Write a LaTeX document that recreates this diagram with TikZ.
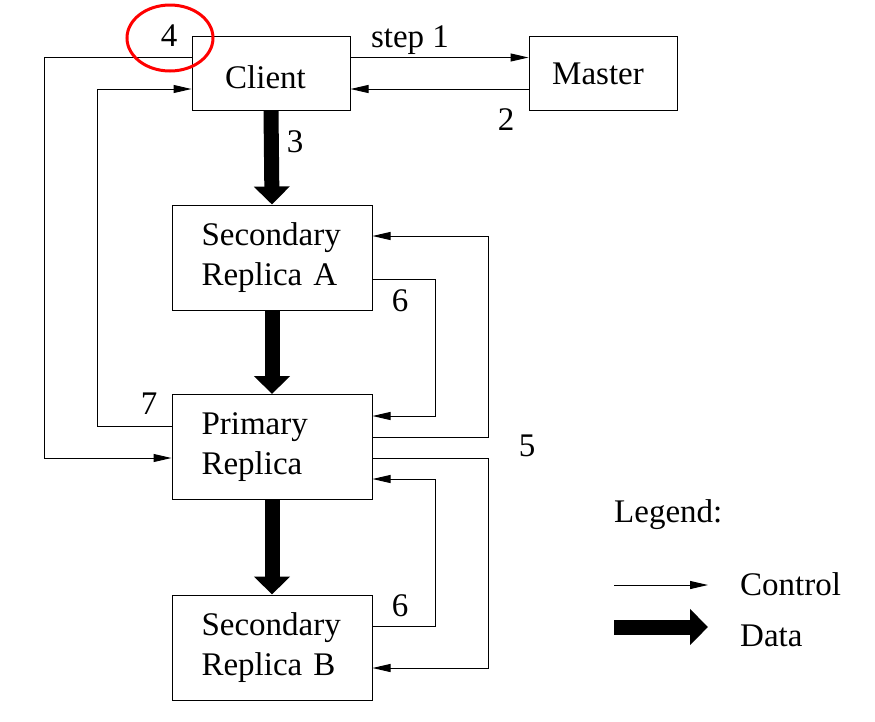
\documentclass[tikz,border=0pt]{standalone}
\usepackage{fontspec}
\setmainfont{Liberation Serif}
\usetikzlibrary{arrows.meta}
\begin{document}
\begin{tikzpicture}[x=1pt,y=-1pt,
  font=\fontsize{33}{40}\selectfont,
  box/.style={draw,line width=1pt,inner sep=0pt},
  replica/.style={box,minimum width=200pt,minimum height=105pt,text width=141pt,align=left},
  ctrl/.style={line width=1pt,-{Triangle[length=18pt,width=8pt]}},
  data/.style={line width=15pt,-{Triangle[length=18pt,width=35pt]}},
  lbl/.style={inner sep=0pt}]
\useasboundingbox (0,0) rectangle (875,721);
\node[box,minimum width=158pt,minimum height=74pt] (client) at (271,73) {\raisebox{-4pt}[\height][\depth]{\hspace*{-11pt}Client}};
\node[box,minimum width=148pt,minimum height=74pt] (master) at (603,73) {\raisebox{-1pt}[\height][\depth]{\hspace*{-10pt}Master}};
\node[replica] (secA) at (272,257.5) {Secondary\\Replica A};
\node[replica] (primary) at (272,447) {Primary\\Replica};
\node[replica] (secB) at (272,647.5) {Secondary\\Replica B};
% data flow
\draw[data] (client.south) -- (secA.north);
\draw[data] (secA.south) -- (primary.north);
\draw[data] (primary.south) -- (secB.north);
% control flow
\draw[ctrl] ([yshift=15.5pt]client.east) -- ([yshift=15.5pt]master.west);
\draw[ctrl] ([yshift=-16pt]master.west) -- ([yshift=-16pt]client.east);
\draw[ctrl] ([yshift=16pt]client.west) -- ++(-147,0) |- ([yshift=-11pt]primary.west);
\draw[ctrl] ([yshift=21pt]primary.west) -- ++(-74.5,0) |- ([yshift=-16pt]client.west);
\draw[ctrl] ([yshift=-21.5pt]secA.east) -- ++(63,0) |- ([yshift=31pt]primary.east);
\draw[ctrl] ([yshift=10pt]primary.east) -- ++(116,0) |- ([yshift=21.5pt]secA.east);
\draw[ctrl] ([yshift=-11pt]primary.east) -- ++(116,0) |- ([yshift=-20.5pt]secB.east);
\draw[ctrl] ([yshift=21.5pt]secB.east) -- ++(63,0) |- ([yshift=-32pt]primary.east);
% labels
\node[lbl] (l1) at (410,40) {step 1};
\node[lbl] (l2) at (506,120) {2};
\node[lbl] (l3) at (295,142) {3};
\node[lbl] (l4) at (169,36) {4};
\node[lbl] (l5) at (527,446) {5};
\node[lbl] (l6a) at (400,301) {6};
\node[lbl] (l6b) at (400,606) {6};
\node[lbl] (l7) at (149,404) {7};
\draw[red,line width=3pt] (170,38) ellipse [x radius=43pt, y radius=33pt];
% legend
\node[lbl,anchor=base west] (leg) at (614,522) {Legend:};
\coordinate (lc1) at (614,585);
\coordinate (lc2) at (708,585);
\draw[ctrl] (lc1) -- (lc2);
\node[lbl,anchor=base west] (lctrl) at (740,595) {Control};
\coordinate (ld1) at (614,627);
\coordinate (ld2) at (708,627);
\draw[data] (ld1) -- (ld2);
\node[lbl,anchor=base west] (ldata) at (740,646) {Data};
\end{tikzpicture}
\end{document}
